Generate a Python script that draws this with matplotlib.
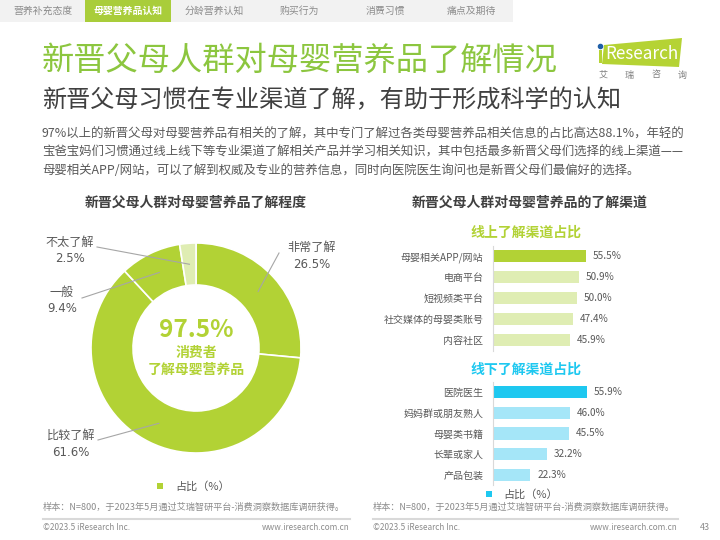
import numpy as np
import matplotlib
matplotlib.use("Agg")
import matplotlib.pyplot as plt
from matplotlib.patches import Rectangle, Polygon

plt.rcParams['font.family'] = ['Noto Sans CJK SC', 'DejaVu Sans']

# data
tabs = ['营养补充态度', '母婴营养品认知', '分龄营养认知', '购买行为', '消费习惯', '痛点及期待']
pie_labels = ['非常了解', '比较了解', '一般', '不太了解']
pie_values = [26.5, 61.6, 9.4, 2.5]
online_cats = ['母婴相关APP/网站', '电商平台', '短视频类平台', '社交媒体的母婴类账号', '内容社区']
online_vals = [55.5, 50.9, 50.0, 47.4, 45.9]
offline_cats = ['医院医生', '妈妈群或朋友熟人', '母婴类书籍', '长辈或家人', '产品包装']
offline_vals = [55.9, 46.0, 45.5, 32.2, 22.3]

GREEN = '#b2d235'
GREEN_L = '#dfedb3'
TITLE_G = '#8cc63f'
CYAN = '#1ec8f0'
CYAN_L = '#a5e6f8'
DARK = '#404040'
GRAY = '#595959'
LGRAY = '#8c8c8c'

W, H = 720, 540
fig = plt.figure(figsize=(7.2, 5.4), dpi=100)

def rect(x0, y0, x1, y1):
    # pixel box (top-left origin) -> figure fraction
    return [x0 / W, 1 - y1 / H, (x1 - x0) / W, (y1 - y0) / H]

# overlay for page text
ov = fig.add_axes([0, 0, 1, 1], zorder=5)
ov.set_xlim(0, W)
ov.set_ylim(H, 0)
ov.axis('off')

# nav bar
ov.add_patch(Rectangle((0, 0), 513, 22, color='#f2f2f2', lw=0))
tab_x = [43, 128, 214, 299, 385, 471]
for i, t in enumerate(tabs):
    if i == 1:
        ov.add_patch(Rectangle((85, 0), 86, 22, color='#a9cd3a', lw=0))
        ov.text(tab_x[i], 11, t, color='white', fontsize=7.1, fontweight='bold', ha='center', va='center')
    else:
        ov.text(tab_x[i], 11, t, color='#8c8c8c', fontsize=7.1, ha='center', va='center')

# titles
ov.text(42, 61, '新晋父母人群对母婴营养品了解情况', color=TITLE_G, fontsize=23.2, ha='left', va='center')
ov.text(42, 100, '新晋父母习惯在专业渠道了解，有助于形成科学的认知', color=DARK, fontsize=17.4, ha='left', va='center')

# logo
ov.add_patch(Polygon([(604, 45), (682, 38), (679, 67), (602, 64)], closed=True, color='#b5d334', lw=0))
ov.add_patch(Rectangle((598.5, 50), 3, 13, color='#b5d334', lw=0))
ov.plot([600], [45.5], 'o', color='#1f5fa8', ms=3)
ov.text(605, 54, 'Research', color='white', fontsize=12.3, ha='left', va='center')
for i, ch in enumerate('艾瑞咨询'):
    ov.text(603 + i * 26.5, 75, ch, color='#7f7f7f', fontsize=6.5, ha='center', va='center')

para = ['97%以上的新晋父母对母婴营养品有相关的了解，其中专门了解过各类母婴营养品相关信息的占比高达88.1%，年轻的',
        '宝爸宝妈们习惯通过线上线下等专业渠道了解相关产品并学习相关知识，其中包括最多新晋父母们选择的线上渠道——',
        '母婴相关APP/网站，可以了解到权威及专业的营养信息，同时向医院医生询问也是新晋父母们最偏好的选择。']
for i, line in enumerate(para):
    ov.text(42, 134 + i * 18.2, line, color=GRAY, fontsize=8.95, ha='left', va='center')

# section titles
ov.text(196, 203, '新晋父母人群对母婴营养品了解程度', color=DARK, fontsize=10, fontweight='bold', ha='center', va='center')
ov.text(530, 203, '新晋父母人群对母婴营养品的了解渠道', color=DARK, fontsize=10, fontweight='bold', ha='center', va='center')
ov.text(526, 233, '线上了解渠道占比', color=GREEN, fontsize=10, fontweight='bold', ha='center', va='center')
ov.text(526, 370, '线下了解渠道占比', color=CYAN, fontsize=10, fontweight='bold', ha='center', va='center')

# donut
cx, cy, R = 196, 348, 105
axp = fig.add_axes(rect(cx - R, cy - R, cx + R, cy + R))
colors = [GREEN, GREEN, GREEN, GREEN_L]
wedges, _ = axp.pie(pie_values, colors=colors, startangle=90, counterclock=False, radius=1,
                    wedgeprops=dict(width=0.4, edgecolor='white', linewidth=1.2))
axp.set_xlim(-1, 1)
axp.set_ylim(-1, 1)
axp.set_aspect('equal')
axp.axis('off')

def d(px, py):
    return ((px - cx) / R, (cy - py) / R)

label_pos = [(312, 247, 279, 253), (71, 435, 98, 440),
             (62, 292, 82, 298), (70, 242, 97, 247)]
for w, lab, v, (tx, ty, ex, ey) in zip(wedges, pie_labels, pie_values, label_pos):
    ang = np.deg2rad((w.theta1 + w.theta2) / 2)
    sx, sy = 0.8 * np.cos(ang), 0.8 * np.sin(ang)
    axp.plot([sx, d(ex, ey)[0]], [sy, d(ex, ey)[1]], color='#a6a6a6', lw=0.8, clip_on=False)
    axp.text(*d(tx, ty), lab, color=GRAY, fontsize=8.7, ha='center', va='center', clip_on=False)
    axp.text(*d(tx, ty + 17), f'{v}%', color=GRAY, fontsize=8.5, family='DejaVu Sans',
             ha='center', va='center', clip_on=False)

axp.text(*d(196, 330), '97.5%', color=GREEN, fontsize=17.5, fontweight='bold', ha='center', va='center')
axp.text(*d(196, 353), '消费者', color=GREEN, fontsize=10, fontweight='bold', ha='center', va='center')
axp.text(*d(196, 370), '了解母婴营养品', color=GREEN, fontsize=10, fontweight='bold', ha='center', va='center')

# bar charts
def bars(box, cats, vals, c_main, c_light):
    ax = fig.add_axes(rect(*box))
    y = np.arange(len(cats))
    cols = [c_main] + [c_light] * (len(cats) - 1)
    ax.barh(y, vals, height=0.6, color=cols)
    for yi, v in zip(y, vals):
        ax.text(v + 4, yi, f'{v:.1f}%', color=GRAY, fontsize=7.2, ha='left', va='center')
    ax.set_xlim(0, 100)
    ax.set_ylim(len(cats) - 0.5, -0.5)
    ax.set_yticks(y)
    ax.set_yticklabels(cats, color=GRAY, fontsize=7.2)
    ax.tick_params(axis='y', length=0, pad=7)
    ax.set_xticks([])
    for s in ['top', 'right', 'bottom']:
        ax.spines[s].set_visible(False)
    ax.spines['left'].set_color('#d9d9d9')
    ax.patch.set_visible(False)
    return ax

bars((493, 245.5, 661, 350.5), online_cats, online_vals, GREEN, GREEN_L)
bars((493, 381.6, 661, 485.4), offline_cats, offline_vals, CYAN, CYAN_L)

# legends
ov.add_patch(Rectangle((157, 483), 6, 6, color=GREEN, lw=0))
ov.text(175, 486, '占比（%）', color=GRAY, fontsize=8, ha='left', va='center')
ov.add_patch(Rectangle((486, 491), 6, 6, color=CYAN, lw=0))
ov.text(503, 494, '占比（%）', color=GRAY, fontsize=8, ha='left', va='center')

# footers
src = '样本：N=800，于2023年5月通过艾瑞智研平台-消费洞察数据库调研获得。'
for x0, x1 in [(43, 350), (373, 678)]:
    ov.text(x0, 507, src, color=LGRAY, fontsize=6.6, ha='left', va='center')
    ov.plot([x0, x1], [519, 519], color='#d9d9d9', lw=1.5)
    ov.text(x0, 528, '©2023.5 iResearch Inc.', color=LGRAY, fontsize=5.9, ha='left', va='center')
    ov.text(x1, 528, 'www.iresearch.com.cn', color=LGRAY, fontsize=5.9, ha='right', va='center')
ov.text(705, 528, '43', color=LGRAY, fontsize=6.5, ha='center', va='center')

fig.savefig('out.png', dpi=100)
